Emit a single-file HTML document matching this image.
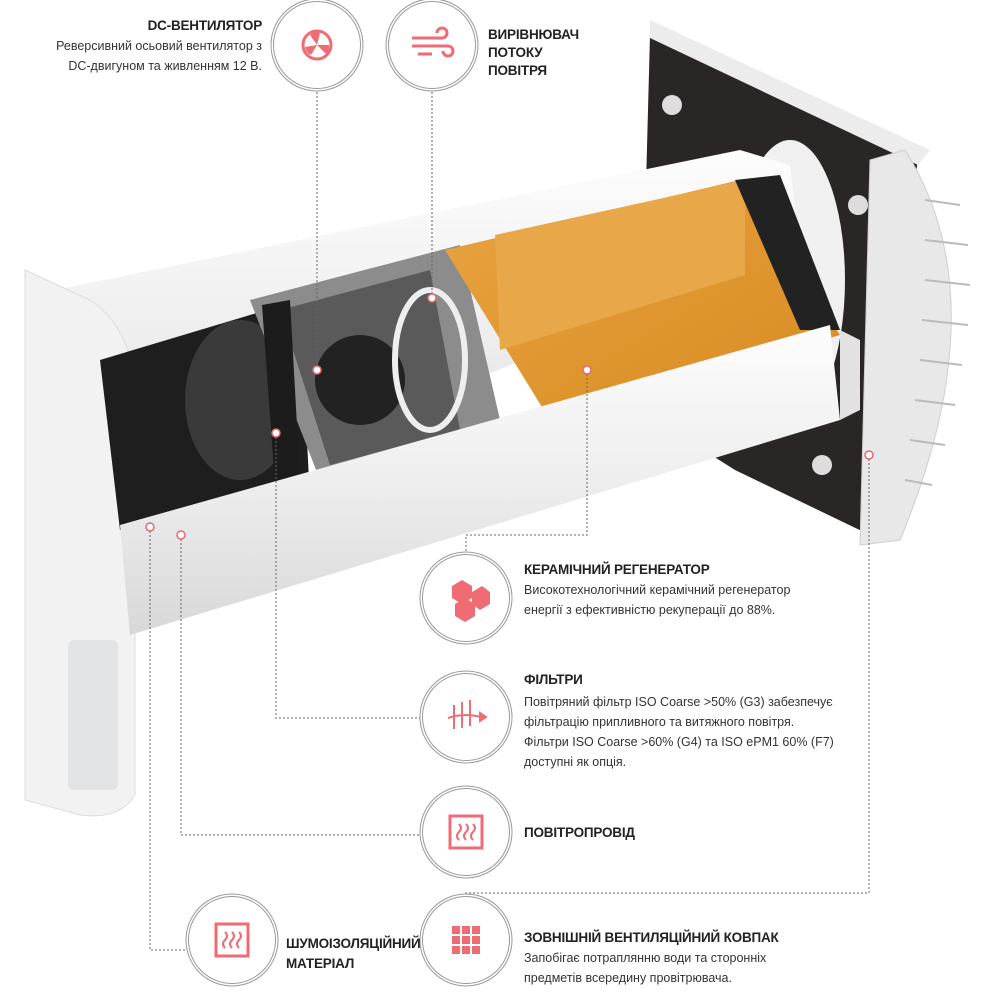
<!DOCTYPE html>
<html><head><meta charset="utf-8"><style>
body{margin:0;width:1000px;height:1000px;background:#fff;position:relative;overflow:hidden;font-family:"Liberation Sans",sans-serif;color:#222}
.t{position:absolute;font-size:12.5px;line-height:20px;color:#333;white-space:nowrap}
.h{font-weight:bold;font-size:13.5px;color:#222;letter-spacing:-.2px}
</style></head><body>
<svg width="1000" height="1000" style="position:absolute;left:0;top:0">
<defs>
<linearGradient id="tube" x1="0" y1="0" x2="0" y2="1"><stop offset="0" stop-color="#fdfdfd"/><stop offset=".5" stop-color="#eeeeee"/><stop offset="1" stop-color="#d8d8d8"/></linearGradient>
<linearGradient id="org" x1="0" y1="0" x2="1" y2="1"><stop offset="0" stop-color="#e9a440"/><stop offset="1" stop-color="#d88a22"/></linearGradient>
</defs>
<polygon points="650,35 918,158 870,535 735,470 640,410" fill="#2a2625"/>
<polygon points="650,20 930,150 918,165 650,38" fill="#ececec"/>
<path d="M905,150 Q1000,300 900,540 L860,545 L870,160 Z" fill="#e8e8e8" stroke="#cfcfcf"/>
<g stroke="#bbb" stroke-width="2">
<line x1="925" y1="200" x2="960" y2="205"/><line x1="925" y1="240" x2="968" y2="245"/><line x1="925" y1="280" x2="970" y2="285"/><line x1="922" y1="320" x2="968" y2="325"/><line x1="920" y1="360" x2="962" y2="365"/><line x1="915" y1="400" x2="955" y2="405"/><line x1="910" y1="440" x2="945" y2="445"/><line x1="905" y1="480" x2="932" y2="485"/>
</g>
<circle cx="672" cy="105" r="10" fill="#ddd"/><circle cx="858" cy="205" r="10" fill="#ddd"/><circle cx="822" cy="465" r="10" fill="#ddd"/>
<ellipse cx="790" cy="280" rx="55" ry="140" fill="#f0f0f0"/>
<polygon points="55,290 740,150 790,165 800,250 120,520 95,340" fill="url(#tube)"/>
<path d="M25,270 L90,300 Q135,330 135,400 L135,795 Q120,820 80,815 L25,800 Z" fill="#f2f2f2" stroke="#ddd"/>
<rect x="68" y="640" width="50" height="150" rx="6" fill="#e2e4e6"/>
<polygon points="100,360 300,300 310,500 120,530" fill="#1e1e1e"/>
<ellipse cx="240" cy="400" rx="55" ry="80" fill="#3a3a3a"/>
<polygon points="250,300 460,245 500,420 320,480" fill="#8c8c8c"/>
<polygon points="280,310 430,270 460,430 330,465" fill="#5a5a5a"/>
<circle cx="360" cy="380" r="45" fill="#222"/>
<ellipse cx="430" cy="360" rx="35" ry="70" fill="none" stroke="#eee" stroke-width="6"/>
<polygon points="262,305 290,300 300,480 275,485" fill="#1c1c1c"/>
<polygon points="445,250 740,180 840,335 550,420" fill="url(#org)"/>
<polygon points="495,235 745,180 745,275 500,350" fill="#e8a84a"/>
<polygon points="735,180 780,175 840,330 800,330" fill="#222"/>
<polygon points="120,525 830,325 840,420 130,635" fill="url(#tube)"/>
<polygon points="840,330 860,340 860,410 840,420" fill="#e2e2e2"/>
</svg>
<svg width="1000" height="1000" style="position:absolute;left:0;top:0">
<g fill="none" stroke="#666" stroke-width="1" stroke-dasharray="2,2">
<polyline points="317,92 317,370"/>
<polyline points="432,92 432,298"/>
<polyline points="587,370 587,535 466,535 466,552"/>
<polyline points="276,433 276,718 420,718"/>
<polyline points="181,535 181,835 420,835"/>
<polyline points="150,527 150,950 186,950"/>
<polyline points="869,455 869,893 466,893 466,894"/>
</g>
<g fill="#fff" stroke="#e66a72" stroke-width="1.5">
<circle cx="317" cy="370" r="4"/><circle cx="432" cy="298" r="4"/><circle cx="587" cy="370" r="4"/><circle cx="276" cy="433" r="4"/><circle cx="181" cy="535" r="4"/><circle cx="150" cy="527" r="4"/><circle cx="869" cy="455" r="4"/>
</g>
<g fill="#fff" stroke="#999" stroke-width="1">
<circle cx="317" cy="45" r="46"/><circle cx="317" cy="45" r="43.5"/>
<circle cx="432" cy="45" r="46"/><circle cx="432" cy="45" r="43.5"/>
<circle cx="466" cy="598" r="46"/><circle cx="466" cy="598" r="43.5"/>
<circle cx="466" cy="717" r="46"/><circle cx="466" cy="717" r="43.5"/>
<circle cx="466" cy="832" r="46"/><circle cx="466" cy="832" r="43.5"/>
<circle cx="232" cy="940" r="46"/><circle cx="232" cy="940" r="43.5"/>
<circle cx="466" cy="940" r="46"/><circle cx="466" cy="940" r="43.5"/>
</g>
<g fill="#ef6c74" stroke="#ef6c74">
<circle cx="317" cy="45" r="14" fill="none" stroke-width="3"/>
<path d="M317,45 l-7,-10 a10,10 0 0 1 10,-2 Z M317,45 l12,0 a10,10 0 0 1 -3,9 Z M317,45 l-6,10 a10,10 0 0 1 -6,-8 Z" stroke="none"/>
<g fill="none" stroke-width="3"><path d="M412,38 h30 a5,5 0 1 0 -5,-5 M412,46 h36 a5,5 0 1 1 -5,5 M418,54 h14"/></g>
<polygon points="452,586 462,580 472,586 472,598 462,604 452,598" stroke="none"/>
<polygon points="472,592 482,586 490,592 490,604 480,610 472,604" stroke="none"/>
<polygon points="455,604 465,598 475,604 475,616 465,622 455,616" stroke="none"/>
<g fill="none" stroke-width="2"><path d="M454,705 v24 M462,702 v26 M470,700 v26 M448,718 q18,-6 36,0"/><polygon points="486,717 480,713 480,721" fill="#ef6c74"/></g>
<g fill="none" stroke-width="3"><rect x="450" y="816" width="32" height="32"/><path d="M459,824 q4,4 0,8 q-4,4 0,8 M466,824 q4,4 0,8 q-4,4 0,8 M473,824 q4,4 0,8 q-4,4 0,8" stroke-width="2"/></g>
<g fill="none" stroke-width="3"><rect x="216" y="924" width="32" height="32"/><path d="M225,932 q4,4 0,8 q-4,4 0,8 M232,932 q4,4 0,8 q-4,4 0,8 M239,932 q4,4 0,8 q-4,4 0,8" stroke-width="2"/></g>
<g stroke="none"><rect x="452" y="926" width="8" height="8"/><rect x="462" y="926" width="8" height="8"/><rect x="472" y="926" width="8" height="8"/><rect x="452" y="936" width="8" height="8"/><rect x="462" y="936" width="8" height="8"/><rect x="472" y="936" width="8" height="8"/><rect x="452" y="946" width="8" height="8"/><rect x="462" y="946" width="8" height="8"/><rect x="472" y="946" width="8" height="8"/></g>
</g>
</svg>
<div class="t" style="right:738px;top:16px;text-align:right"><div class="h">DC-ВЕНТИЛЯТОР</div>Реверсивний осьовий вентилятор з<br>DC-двигуном та живленням 12 В.</div>
<div class="t h" style="left:488px;top:26px;line-height:18px">ВИРІВНЮВАЧ<br>ПОТОКУ<br>ПОВІТРЯ</div>
<div class="t" style="left:524px;top:560px"><div class="h">КЕРАМІЧНИЙ РЕГЕНЕРАТОР</div>Високотехнологічний керамічний регенератор<br>енергії з ефективністю рекуперації до 88%.</div>
<div class="t" style="left:524px;top:670px"><div class="h" style="margin-bottom:2px">ФІЛЬТРИ</div>Повітряний фільтр ISO Coarse &gt;50% (G3) забезпечує<br>фільтрацію припливного та витяжного повітря.<br>Фільтри ISO Coarse &gt;60% (G4) та ISO ePM1 60% (F7)<br>доступні як опція.</div>
<div class="t h" style="left:524px;top:823px">ПОВІТРОПРОВІД</div>
<div class="t h" style="left:286px;top:934px;line-height:20px">ШУМОІЗОЛЯЦІЙНИЙ<br>МАТЕРІАЛ</div>
<div class="t" style="left:524px;top:928px"><div class="h">ЗОВНІШНІЙ ВЕНТИЛЯЦІЙНИЙ КОВПАК</div>Запобігає потраплянню води та сторонніх<br>предметів всередину провітрювача.</div>
</body></html>
